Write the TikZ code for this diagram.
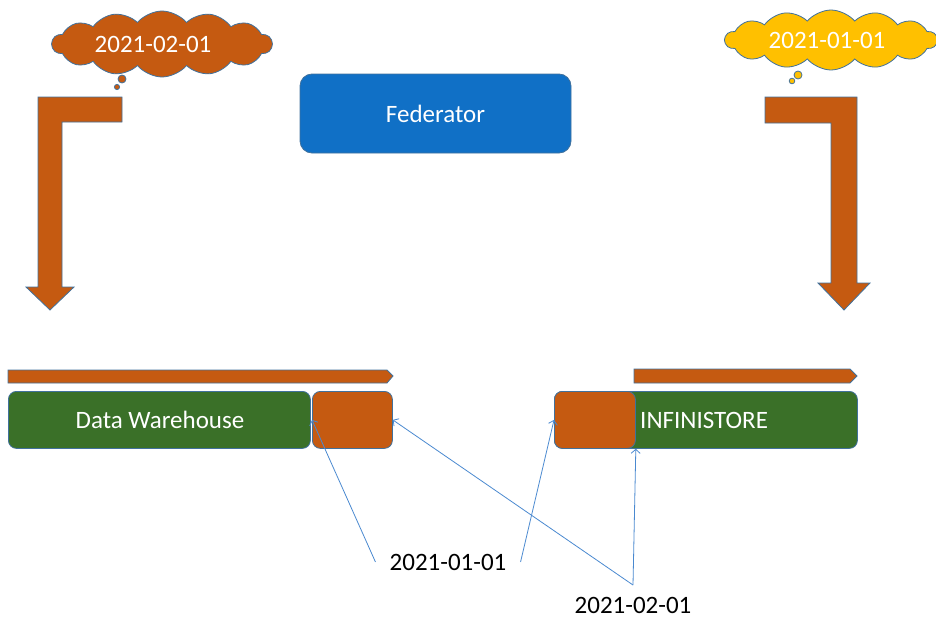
\documentclass[tikz,border=0pt]{standalone}
\usepackage{fontspec}
\setmainfont{Carlito}
\usetikzlibrary{shapes.symbols,arrows.meta}
\definecolor{orng}{HTML}{C55A11}
\definecolor{grn}{HTML}{3A7028}
\definecolor{fblue}{HTML}{1070C6}
\definecolor{ylw}{HTML}{FFC000}
\definecolor{edge}{HTML}{41719C}
\definecolor{conn}{HTML}{4A89D0}
\tikzset{
  shapeline/.style={draw=edge, line width=0.8pt},
  cloudbox/.style={shapeline, cloud, cloud puffs=14, cloud puff arc=100, inner sep=0pt, text=white},
  bubble/.style={shapeline},
  rbox/.style={shapeline, rounded corners=8pt, inner sep=0pt, anchor=north west},
  conline/.style={draw=conn, line width=0.8pt, -{Straight Barb[length=4pt,width=9pt]}},
  lbl/.style={text=black},
}
\begin{document}
\begin{tikzpicture}[x=1pt,y=-1pt, font=\fontsize{25}{30}\selectfont]
\useasboundingbox (0,0) rectangle (936,618);
% clouds
\node[cloudbox, fill=orng, minimum width=220pt, minimum height=66pt] (c1) at (162,44) {};
\node[text=white] (c1t) at (153,44) {2021-02-01};
\filldraw[bubble, fill=orng] (122,79) circle (4);
\filldraw[bubble, fill=orng] (117,87) circle (2.6);
\node[cloudbox, fill=ylw, minimum width=212pt, minimum height=60pt] (c2) at (831,40) {};
\node[text=white] (c2t) at (827,40) {2021-01-01};
\filldraw[bubble, fill=ylw] (798,75) circle (4);
\filldraw[bubble, fill=ylw] (792,81) circle (2.8);
% federator
\node[rbox, rounded corners=12pt, fill=fblue, text=white, minimum width=271pt, minimum height=79pt, anchor=center] (fed) at (435.5,113.5) {Federator};
% bent arrows
\filldraw[shapeline, fill=orng] (38,97) -- (122,97) -- (122,122) -- (62,122) -- (62,287) -- (74,287) -- (50,310) -- (26,287) -- (38,287) -- cycle;
\filldraw[shapeline, fill=orng] (765,97) -- (857,97) -- (857,283) -- (870,283) -- (844,310) -- (818,283) -- (831,283) -- (831,123) -- (765,123) -- cycle;
% pentagons
\filldraw[shapeline, fill=orng] (8,370) -- (387,370) -- (393,376) -- (387,383) -- (8,383) -- cycle;
\filldraw[shapeline, fill=orng] (634,369) -- (850,369) -- (857,376) -- (850,383) -- (634,383) -- cycle;
% data warehouse
\node[rbox, fill=grn, minimum width=302pt, minimum height=57pt] (dw) at (8,391) {};
\node[text=white] (dwt) at (160,420) {Data Warehouse};
\node[rbox, fill=orng, minimum width=80pt, minimum height=57pt] (dwo) at (312,391) {};
% infinistore
\node[rbox, fill=grn, minimum width=303pt, minimum height=57pt] (is) at (554,391) {};
\node[rbox, fill=orng, minimum width=81pt, minimum height=57pt] (iso) at (554,391) {};
\node[text=white, anchor=west, inner sep=0pt] (ist) at (640,420) {INFINISTORE};
% labels
\node[lbl, inner xsep=14pt] (l1) at (448,562) {2021-01-01};
\node[lbl] (l2) at (633,605) {2021-02-01};
\coordinate (j2) at (633,585);
% connectors
\draw[conline] (l1.west) -- (dwo.west);
\draw[conline] (l1.east) -- (iso.west);
\draw[conline] (j2) -- (dwo.east);
\draw[conline] (j2) -- (iso.south east);
\end{tikzpicture}
\end{document}
